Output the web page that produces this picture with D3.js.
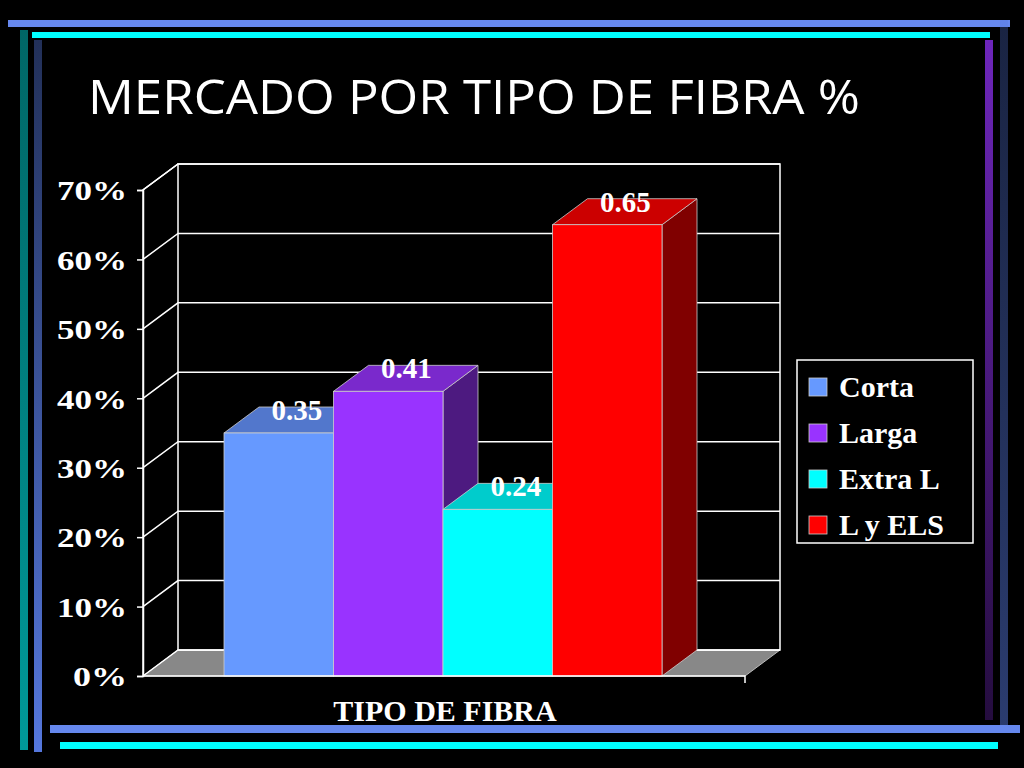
<!DOCTYPE html>
<html><head><meta charset="utf-8">
<script src="https://cdn.jsdelivr.net/npm/d3@7"></script>
<style>body{margin:0;background:#000}svg{display:block}</style>
</head><body>
<script>
// datos del grafico
var categories = ["Corta", "Larga", "Extra L", "L y ELS"];
var values = [0.35, 0.41, 0.24, 0.65];
var labels = ["0.35", "0.41", "0.24", "0.65"];
var colors = ["#6699ff", "#9933ff", "#00ffff", "#ff0000"];
var sideColors = ["#3d5c99", "#4d1a80", "#009999", "#800000"];
var topColors = ["#5277cc", "#7a29cc", "#00cccc", "#cc0000"];
var yTicks = [0, 0.1, 0.2, 0.3, 0.4, 0.5, 0.6, 0.7];

var W = 1024, H = 768;
var svg = d3.select("body").append("svg").attr("width", W).attr("height", H);
var defs = svg.append("defs");
function grad(id, c, o1, o2){
  var g = defs.append("linearGradient").attr("id", id).attr("x1", 0).attr("y1", 0).attr("x2", 0).attr("y2", 1);
  g.append("stop").attr("offset", "0%").attr("stop-color", c).attr("stop-opacity", o1);
  g.append("stop").attr("offset", "100%").attr("stop-color", c).attr("stop-opacity", o2);
}
grad("gTeal", "#0aa", 0.6, 0.9);
grad("gBlue", "#5577dd", 0.4, 1);
grad("gPurple", "#7a2ad0", 0.9, 0.3);
grad("gBlueR", "#5577dd", 0.3, 0.5);

// marcos decorativos
svg.append("rect").attr("x", 8).attr("y", 20).attr("width", 1002).attr("height", 7).attr("fill", "#6688ee");
svg.append("rect").attr("x", 32).attr("y", 32).attr("width", 958).attr("height", 6).attr("fill", "#00ffff");
svg.append("rect").attr("x", 20).attr("y", 30).attr("width", 8).attr("height", 720).attr("fill", "url(#gTeal)");
svg.append("rect").attr("x", 34).attr("y", 40).attr("width", 8).attr("height", 712).attr("fill", "url(#gBlue)");
svg.append("rect").attr("x", 985).attr("y", 40).attr("width", 8).attr("height", 680).attr("fill", "url(#gPurple)");
svg.append("rect").attr("x", 1000).attr("y", 20).attr("width", 8).attr("height", 705).attr("fill", "url(#gBlueR)");
svg.append("rect").attr("x", 50).attr("y", 725).attr("width", 970).attr("height", 8).attr("fill", "#6688ee");
svg.append("rect").attr("x", 60).attr("y", 742).attr("width", 938).attr("height", 7).attr("fill", "#00ffff");

svg.append("text").attr("x", 88).attr("y", 114).attr("fill", "#fff")
  .attr("font-family", "Open Sans, sans-serif").attr("font-size", 48)
  .attr("textLength", 772).attr("lengthAdjust", "spacingAndGlyphs")
  .text("MERCADO POR TIPO DE FIBRA %");

// escalas
var dx = 35, dy = -26;
var x0 = 143, x1 = 745;
var y = d3.scaleLinear().domain([0, 0.7]).range([676, 190]);
var x = d3.scaleBand().domain(categories).range([224, 662]).paddingInner(0).paddingOuter(0);

var g = svg.append("g");
// piso
g.append("path").attr("d", "M" + x0 + "," + y(0) + "L" + x1 + "," + y(0) + "L" + (x1 + dx) + "," + (y(0) + dy) + "L" + (x0 + dx) + "," + (y(0) + dy) + "Z")
  .attr("fill", "#888").attr("stroke", "#bbb");
// pared del fondo y rejilla
g.append("rect").attr("x", x0 + dx).attr("y", y(0.7) + dy).attr("width", x1 - x0).attr("height", y(0) - y(0.7))
  .attr("fill", "#000").attr("stroke", "#fff").attr("stroke-width", 1.5);
g.append("path").attr("d", "M" + x0 + "," + y(0) + "L" + x0 + "," + y(0.7) + "L" + (x0 + dx) + "," + (y(0.7) + dy))
  .attr("fill", "none").attr("stroke", "#fff").attr("stroke-width", 1.5);
yTicks.forEach(function(t){
  g.append("path").attr("d", "M" + x0 + "," + y(t) + "L" + (x0 + dx) + "," + (y(t) + dy) + "L" + (x1 + dx) + "," + (y(t) + dy))
    .attr("fill", "none").attr("stroke", "#fff").attr("stroke-width", 1.5);
});
// eje
var axis = d3.axisLeft(y).tickValues(yTicks).tickFormat(d3.format(".0%")).tickSize(6);
var ax = svg.append("g").attr("transform", "translate(" + x0 + ",0)").call(axis);
ax.select(".domain").attr("stroke", "#fff").attr("stroke-width", 1.5);
ax.selectAll("line").attr("stroke", "#fff").attr("stroke-width", 1.5);
ax.selectAll("text").attr("fill", "#fff").attr("font-family", "Liberation Serif, serif")
  .attr("font-weight", "bold").attr("font-size", 28).attr("x", -16).attr("dy", "0.35em")
  .attr("textLength", 70).attr("lengthAdjust", "spacingAndGlyphs");
ax.selectAll(".tick").filter(function(d){ return d === 0; }).select("text").attr("textLength", 54);
svg.append("path").attr("d", "M" + x0 + "," + y(0) + "L" + x1 + "," + y(0) + "L" + x1 + "," + (y(0) + 7))
  .attr("fill", "none").attr("stroke", "#fff").attr("stroke-width", 1.5);

// barras 3D
var bw = x.bandwidth();
categories.forEach(function(c, i){
  var bx = x(c), by = y(values[i]), b0 = y(0);
  g.append("path").attr("d", "M" + (bx + bw) + "," + b0 + "L" + (bx + bw + dx) + "," + (b0 + dy) + "L" + (bx + bw + dx) + "," + (by + dy) + "L" + (bx + bw) + "," + by + "Z")
    .attr("fill", sideColors[i]).attr("stroke", "#ccc").attr("stroke-width", 0.8);
  g.append("path").attr("d", "M" + bx + "," + by + "L" + (bx + dx) + "," + (by + dy) + "L" + (bx + bw + dx) + "," + (by + dy) + "L" + (bx + bw) + "," + by + "Z")
    .attr("fill", topColors[i]).attr("stroke", "#ccc").attr("stroke-width", 0.8);
  g.append("rect").attr("x", bx).attr("y", by).attr("width", bw).attr("height", b0 - by)
    .attr("fill", colors[i]).attr("stroke", "#ccc").attr("stroke-width", 0.8);
});
categories.forEach(function(c, i){
  g.append("text").attr("x", x(c) + bw / 2 + 18).attr("y", y(values[i]) - 13)
    .attr("text-anchor", "middle").attr("fill", "#fff")
    .attr("font-family", "Liberation Serif, serif").attr("font-weight", "bold").attr("font-size", 29)
    .text(labels[i]);
});

svg.append("text").attr("x", 445).attr("y", 721).attr("text-anchor", "middle").attr("fill", "#fff")
  .attr("font-family", "Liberation Serif, serif").attr("font-weight", "bold").attr("font-size", 30)
  .text("TIPO DE FIBRA");

// leyenda
var lg = svg.append("g").attr("transform", "translate(797,360)");
lg.append("rect").attr("width", 176).attr("height", 183).attr("fill", "#000").attr("stroke", "#fff").attr("stroke-width", 1.5);
categories.forEach(function(c, i){
  lg.append("rect").attr("x", 12).attr("y", 18 + i * 46).attr("width", 18).attr("height", 18)
    .attr("fill", colors[i]).attr("stroke", "#ccc").attr("stroke-width", 0.8);
  lg.append("text").attr("x", 42).attr("y", 37 + i * 46).attr("fill", "#fff")
    .attr("font-family", "Liberation Serif, serif").attr("font-weight", "bold").attr("font-size", 30).text(c);
});
</script>
</body></html>
